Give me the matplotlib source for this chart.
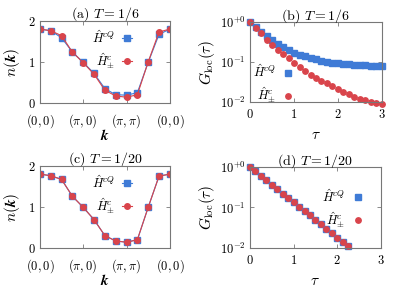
import matplotlib
matplotlib.use('Agg')
import matplotlib.pyplot as plt

plt.rcParams['font.family'] = 'serif'
plt.rcParams['font.serif'] = ['cmr10', 'DejaVu Serif']
plt.rcParams['mathtext.fontset'] = 'cm'
plt.rcParams['axes.unicode_minus'] = False
plt.rcParams['axes.formatter.use_mathtext'] = True

blue = '#3f7bd6'
red = '#d9444b'

# n(k) along (0,0)->(pi,0)->(pi,pi)->(0,0)
k_idx = list(range(13))
k_ticks = [0, 4, 8, 12]
k_labels = ['$(0,0)$', '$(\\pi,0)$', '$(\\pi,\\pi)$', '$(0,0)$']

nk_a_cq = [1.80, 1.76, 1.59, 1.24, 0.99, 0.72, 0.35, 0.20, 0.19, 0.25, 0.99, 1.67, 1.80]
nk_a_pm = [1.80, 1.76, 1.64, 1.24, 0.98, 0.70, 0.31, 0.17, 0.14, 0.20, 1.00, 1.73, 1.80]
nk_c_cq = [1.80, 1.76, 1.67, 1.26, 0.99, 0.69, 0.30, 0.17, 0.14, 0.20, 0.99, 1.75, 1.80]
nk_c_pm = [1.80, 1.76, 1.67, 1.26, 0.99, 0.69, 0.30, 0.17, 0.14, 0.20, 0.99, 1.75, 1.80]

# G_loc(tau), tau step 0.125
tau = [0.0, 0.125, 0.25, 0.375, 0.5, 0.625, 0.75, 0.875, 1.0, 1.125, 1.25, 1.375,
       1.5, 1.625, 1.75, 1.875, 2.0, 2.125, 2.25, 2.375, 2.5, 2.625, 2.75, 2.875, 3.0]
g_b_cq = [1.0, 0.74, 0.58, 0.46, 0.36, 0.29, 0.235, 0.195, 0.168, 0.150, 0.138, 0.127,
          0.117, 0.108, 0.102, 0.096, 0.093, 0.089, 0.087, 0.085, 0.084, 0.083, 0.082, 0.081, 0.081]
g_b_pm = [1.0, 0.71, 0.52, 0.36, 0.26, 0.20, 0.155, 0.123, 0.096, 0.076, 0.060, 0.048,
          0.0406, 0.0341, 0.0293, 0.0251, 0.0211, 0.0178, 0.0156, 0.0136, 0.0121, 0.0110,
          0.0102, 0.0094, 0.0089]
tau_d = tau[:19]
g_d_cq = [1.0, 0.78, 0.61, 0.47, 0.37, 0.29, 0.22, 0.17, 0.135, 0.105, 0.082, 0.064,
          0.050, 0.039, 0.030, 0.0235, 0.018, 0.0142, 0.0113]
g_d_pm = g_d_cq

lab_cq = '$\\hat{H}^{cQ}$'
lab_pm = '$\\hat{H}^{c}_{\\pm}$'

fig = plt.figure(figsize=(3.95, 2.9), dpi=100)
ax_a = fig.add_axes([0.101, 0.645, 0.329, 0.283])
ax_b = fig.add_axes([0.633, 0.648, 0.334, 0.276])
ax_c = fig.add_axes([0.101, 0.145, 0.329, 0.283])
ax_d = fig.add_axes([0.633, 0.145, 0.331, 0.279])


def style(ax, xpad):
    for s in ax.spines.values():
        s.set_color('#777777')
        s.set_linewidth(0.8)
    ax.tick_params(direction='in', top=True, right=True, length=3, width=0.6,
                   color='#777777', labelsize=9, pad=3)
    ax.tick_params(axis='x', pad=xpad)
    ax.tick_params(which='minor', length=0)


def nk_panel(ax, cq, pm, title, leg_anchor):
    ax.plot(k_idx, cq, color=blue, lw=0.8, marker='s', ms=3.8, mec=blue, label=lab_cq)
    ax.plot(k_idx, pm, color=red, lw=0.8, marker='o', ms=4.0, mec=red, label=lab_pm)
    ax.set_xlim(0, 12)
    ax.set_ylim(0, 2)
    ax.set_yticks([0, 1, 2])
    ax.set_xticks(k_ticks)
    ax.set_xticklabels(k_labels)
    ax.set_xlabel('$\\boldsymbol{k}$', fontsize=11, labelpad=-1)
    ax.set_ylabel('$n(\\boldsymbol{k})$', fontsize=11, labelpad=4)
    ax.set_title(title, fontsize=10, pad=2)
    ax.legend(loc='upper left', bbox_to_anchor=leg_anchor, frameon=False, markerfirst=False,
              handlelength=0.8, handletextpad=0.6, labelspacing=0.4, fontsize=9,
              borderpad=0, borderaxespad=0)
    style(ax, 6.5)


def g_panel(ax, t, cq, t2, pm, title, leg_anchor):
    ax.plot(t, cq, ls='none', color=blue, marker='s', ms=3.8, label=lab_cq, clip_on=False)
    ax.plot(t2, pm, ls='none', color=red, marker='o', ms=3.9, label=lab_pm, clip_on=False)
    ax.set_yscale('log')
    ax.set_xlim(0, 3)
    ax.set_ylim(0.01, 1)
    ax.set_xticks([0, 1, 2, 3])
    ax.set_yticks([1, 0.1, 0.01])
    ax.set_yticklabels(['$10^{+0}$', '$10^{-1}$', '$10^{-2}$'])
    ax.set_xlabel('$\\tau$', fontsize=11, labelpad=5)
    ax.set_ylabel('$G_{\\rm loc}(\\tau)$', fontsize=11, labelpad=2)
    ax.set_title(title, fontsize=10, pad=2)
    ax.legend(loc='upper left', bbox_to_anchor=leg_anchor, frameon=False, markerfirst=False,
              handlelength=0.8, handletextpad=0.6, labelspacing=0.4, fontsize=9,
              borderpad=0, borderaxespad=0)
    style(ax, 4.5)


nk_panel(ax_a, nk_a_cq, nk_a_pm, '(a) $T=1/6$', (0.40, 0.90))
nk_panel(ax_c, nk_c_cq, nk_c_pm, '(c) $T=1/20$', (0.40, 0.90))

g_panel(ax_b, tau, g_b_cq, tau, g_b_pm, '(b) $T=1/6$', (0.02, 0.48))
g_panel(ax_d, tau_d, g_d_cq, tau_d, g_d_pm, '(d) $T=1/20$', (0.55, 0.74))

fig.savefig('out.png', dpi=100)
